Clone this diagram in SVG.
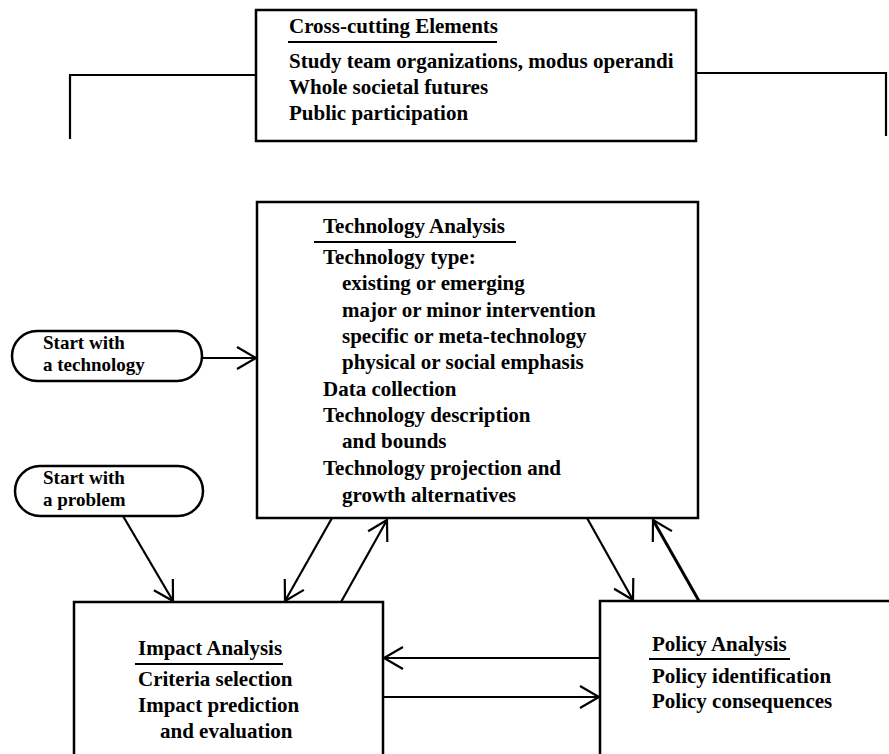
<svg xmlns="http://www.w3.org/2000/svg" width="889" height="754" viewBox="0 0 889 754">
<style>
.t{font-family:"Liberation Serif","Times New Roman",serif;font-weight:bold;font-size:21px;fill:#000}
.s{font-size:19px}
.box{fill:#fff;stroke:#000;stroke-width:2.5}
.ln{stroke:#000;stroke-width:2.2;fill:none}
.ul{stroke:#000;stroke-width:1.8}
</style>
<defs>
<marker id="ah" markerUnits="userSpaceOnUse" markerWidth="30" markerHeight="30" viewBox="-25 -15 30 30" refX="0" refY="0" orient="auto">
<path d="M-19,-11 L0,0 L-19,11" fill="none" stroke="#000" stroke-width="2.2"/>
</marker>
</defs>
<rect width="889" height="754" fill="#fff"/>
<g id="connectors">
<path class="ln" d="M256,75 H70 V139"/>
<path class="ln" d="M696,73 H886 V136"/>
<line class="ln" x1="202" y1="358" x2="256" y2="358" marker-end="url(#ah)"/>
<line class="ln" x1="123" y1="516" x2="173" y2="601" marker-end="url(#ah)"/>
<line class="ln" x1="332" y1="518" x2="285" y2="601" marker-end="url(#ah)"/>
<line class="ln" x1="341" y1="602" x2="387" y2="520" marker-end="url(#ah)"/>
<line class="ln" x1="587" y1="518" x2="633" y2="600" marker-end="url(#ah)"/>
<line class="ln" style="stroke-width:3" x1="699" y1="601" x2="653" y2="520" marker-end="url(#ah)"/>
<line class="ln" x1="600" y1="658" x2="384" y2="658" marker-end="url(#ah)"/>
<line class="ln" x1="383" y1="697" x2="599" y2="697" marker-end="url(#ah)"/>
</g>
<g id="cross-cutting">
<rect class="box" x="256" y="10" width="440" height="131"/>
<text class="t" x="289" y="33">Cross-cutting Elements</text>
<line class="ul" x1="288" y1="42" x2="497" y2="42"/>
<text class="t" x="289" y="68">Study team organizations, modus operandi</text>
<text class="t" x="289" y="94">Whole societal futures</text>
<text class="t" x="289" y="120">Public participation</text>
</g>
<g id="technology-analysis">
<rect class="box" x="257" y="202" width="441" height="316"/>
<text class="t" x="323" y="233">Technology Analysis</text>
<line class="ul" x1="314" y1="242" x2="516" y2="242"/>
<text class="t" x="323" y="264">Technology type:</text>
<text class="t" x="342" y="290">existing or emerging</text>
<text class="t" x="342" y="317">major or minor intervention</text>
<text class="t" x="342" y="343">specific or meta-technology</text>
<text class="t" x="342" y="369">physical or social emphasis</text>
<text class="t" x="323" y="396">Data collection</text>
<text class="t" x="323" y="422">Technology description</text>
<text class="t" x="342" y="448">and bounds</text>
<text class="t" x="323" y="475">Technology projection and</text>
<text class="t" x="342" y="502">growth alternatives</text>
</g>
<g id="start-technology">
<rect class="box" x="12" y="331" width="190" height="50" rx="25"/>
<text class="t s" x="43" y="349">Start with</text>
<text class="t s" x="43" y="371">a technology</text>
</g>
<g id="start-problem">
<rect class="box" x="15" y="466" width="188" height="50" rx="25"/>
<text class="t s" x="43" y="484">Start with</text>
<text class="t s" x="43" y="506">a problem</text>
</g>
<g id="impact-analysis">
<rect class="box" x="74" y="602" width="309" height="170"/>
<text class="t" x="138" y="655">Impact Analysis</text>
<line class="ul" x1="135" y1="664" x2="283" y2="664"/>
<text class="t" x="138" y="686">Criteria selection</text>
<text class="t" x="138" y="712">Impact prediction</text>
<text class="t" x="160" y="738">and evaluation</text>
</g>
<g id="policy-analysis">
<rect class="box" x="600" y="601" width="310" height="170"/>
<text class="t" x="652" y="651">Policy Analysis</text>
<line class="ul" x1="649" y1="659" x2="790" y2="659"/>
<text class="t" x="652" y="683">Policy identification</text>
<text class="t" x="652" y="708">Policy consequences</text>
</g>
</svg>
